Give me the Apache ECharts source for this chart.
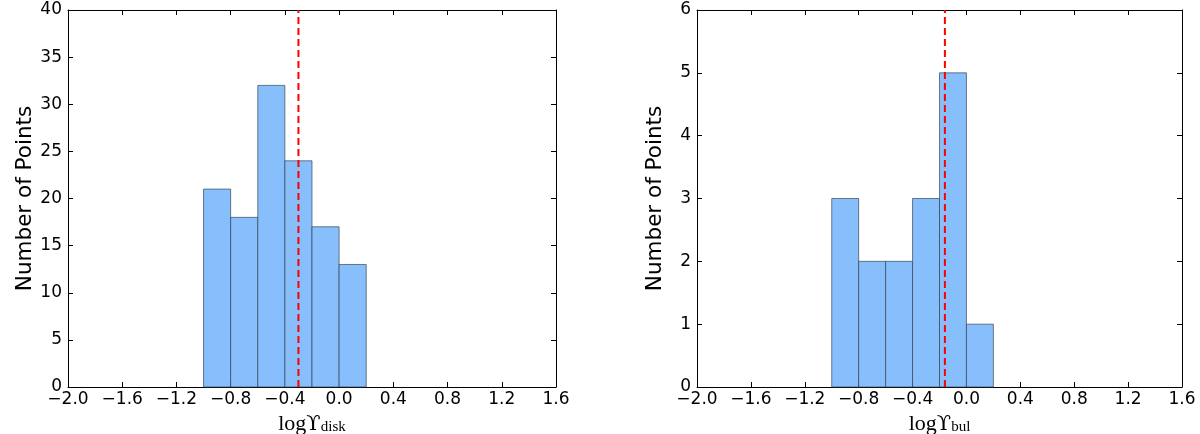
<!DOCTYPE html>
<html>
<head>
<meta charset="utf-8">
<script src="https://cdn.jsdelivr.net/npm/echarts@6/dist/echarts.min.js"></script>
<style>html,body{margin:0;padding:0;background:#fff;}#chart{width:1200px;height:434px;}</style>
</head>
<body>
<div id="chart"></div>
<script>
// ---- data ----
const binEdges = [-1.0, -0.8, -0.6, -0.4, -0.2, 0.0, 0.2];
const diskCounts = [21, 18, 32, 24, 17, 13];
const bulgeCounts = [3, 2, 2, 3, 5, 1];
const diskMedian = -0.30;
const bulgeMedian = -0.16;
const xMin = -2.0, xMax = 1.6, xStep = 0.4;
const diskYMax = 40, diskYStep = 5;
const bulgeYMax = 6, bulgeYStep = 1;
const yAxisTitle = 'Number of Points';
const diskSub = 'disk', bulgeSub = 'bul';

function binData(counts) {
  return counts.map((c, i) => [binEdges[i], binEdges[i + 1], c]);
}
const FILL = '#86bffc', EDGE = 'rgba(50,60,72,0.65)';
function renderItem(params, api) {
  const p0 = api.coord([api.value(0), api.value(2)]);
  const p1 = api.coord([api.value(1), 0]);
  return {
    type: 'rect',
    shape: { x: p0[0], y: p0[1], width: p1[0] - p0[0], height: p1[1] - p0[1] },
    style: { fill: FILL, stroke: EDGE, lineWidth: 1 }
  };
}
const fmtX = v => { const s = Number(v).toFixed(1); return s.replace('-', '\u2212'); };
const axisLineStyle = { show: true, onZero: false, lineStyle: { color: '#000', width: 1 } };
const tick = { show: true, inside: true, length: 5, lineStyle: { color: '#000', width: 1 } };
const labelFont = { fontFamily: 'DejaVu Sans', fontSize: 17, color: '#000' };

function xAxes(g, sub) {
  return [
    { gridIndex: g, type: 'value', min: xMin, max: xMax, interval: xStep, position: 'bottom',
      axisLine: axisLineStyle, axisTick: tick, splitLine: { show: false },
      axisLabel: Object.assign({ formatter: fmtX, margin: 4, showMinLabel: true, showMaxLabel: true }, labelFont),
      name: '{a|log}{b|\u03D2}{c|' + sub + '}', nameLocation: 'middle', nameGap: 22,
      nameTextStyle: { rich: {
        a: { fontFamily: 'Liberation Serif', fontSize: 22, color: '#000', verticalAlign: 'bottom', lineHeight: 24 },
        b: { fontFamily: 'DejaVu Serif', fontSize: 21, color: '#000', verticalAlign: 'bottom', lineHeight: 24 },
        c: { fontFamily: 'Liberation Serif', fontSize: 15, color: '#000', verticalAlign: 'bottom', lineHeight: 13 }
      } } },
    { gridIndex: g, type: 'value', min: xMin, max: xMax, interval: xStep, position: 'top',
      axisLine: axisLineStyle, axisTick: tick, splitLine: { show: false }, axisLabel: { show: false } }
  ];
}
function yAxes(g, max, step) {
  return [
    { gridIndex: g, type: 'value', min: 0, max: max, interval: step, position: 'left',
      axisLine: axisLineStyle, axisTick: tick, splitLine: { show: false },
      axisLabel: Object.assign({ margin: 6 }, labelFont),
      name: yAxisTitle, nameLocation: 'middle', nameGap: 31, nameRotate: 90,
      nameTextStyle: { fontFamily: 'DejaVu Sans', fontSize: 21.5, color: '#000' } },
    { gridIndex: g, type: 'value', min: 0, max: max, interval: step, position: 'right',
      axisLine: axisLineStyle, axisTick: tick, splitLine: { show: false }, axisLabel: { show: false } }
  ];
}
function medianLine(xi, yi, x, ymax) {
  return { type: 'line', xAxisIndex: xi, yAxisIndex: yi, data: [[x, 0], [x, ymax]],
    symbol: 'none', silent: true, z: 5,
    lineStyle: { color: '#ff0000', width: 2, type: [7, 4] } };
}

const chart = echarts.init(document.getElementById('chart'), null, { renderer: 'canvas' });
chart.setOption({
  animation: false,
  backgroundColor: '#fff',
  grid: [
    { left: 68, top: 10, width: 488, height: 377, containLabel: false, outerBoundsMode: 'none' },
    { left: 697, top: 10, width: 485, height: 377, containLabel: false, outerBoundsMode: 'none' }
  ],
  xAxis: [...xAxes(0, diskSub), ...xAxes(1, bulgeSub)],
  yAxis: [...yAxes(0, diskYMax, diskYStep), ...yAxes(1, bulgeYMax, bulgeYStep)],
  series: [
    { type: 'custom', xAxisIndex: 0, yAxisIndex: 0, renderItem, encode: { x: [0, 1], y: 2 }, data: binData(diskCounts) },
    medianLine(0, 0, diskMedian, diskYMax),
    { type: 'custom', xAxisIndex: 2, yAxisIndex: 2, renderItem, encode: { x: [0, 1], y: 2 }, data: binData(bulgeCounts) },
    medianLine(2, 2, bulgeMedian, bulgeYMax)
  ]
});
</script>
</body>
</html>
